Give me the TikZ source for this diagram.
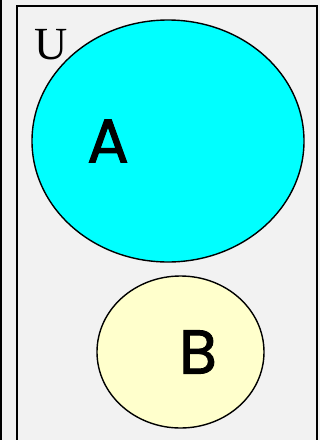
\documentclass[tikz,border=0pt]{standalone}
\usepackage{fontspec}
\usetikzlibrary{shapes.geometric}
\newfontfamily\handfont{Poppins}[FakeBold=1.5]
\newfontfamily\univfont{Liberation Serif}
\definecolor{bggray}{HTML}{F2F2F2}
\definecolor{setA}{HTML}{00FFFF}
\definecolor{setB}{HTML}{FFFFCC}
\begin{document}
\begin{tikzpicture}[x=1pt,y=-1pt,
  frame/.style={draw=black,line width=2pt},
  setshape/.style={draw=black,line width=1.4pt},
  setlabel/.style={font=\handfont\fontsize{62}{62}\selectfont,inner sep=0pt,anchor=center},
  univlabel/.style={font=\univfont\fontsize{46}{46}\selectfont,inner sep=0pt,anchor=center}]
\useasboundingbox (0,0) rectangle (320,440);
\fill[bggray] (0,0) rectangle (320,440);
\draw[frame] (1,-2) -- (1,442);
\draw[frame] (17,442) -- (17,6) -- (317,6) -- (317,442);
\node[setshape,fill=setA,ellipse,minimum width=272pt,minimum height=242pt,inner sep=0pt] (A) at (168,141) {};
\node[setshape,fill=setB,ellipse,minimum width=167pt,minimum height=152pt,inner sep=0pt] (B) at (180.5,352) {};
\node[univlabel] (U) at (51,45) {U};
\node[setlabel] (LA) at (108,141) {A};
\node[setlabel] (LB) at (198,352) {B};
\end{tikzpicture}
\end{document}
